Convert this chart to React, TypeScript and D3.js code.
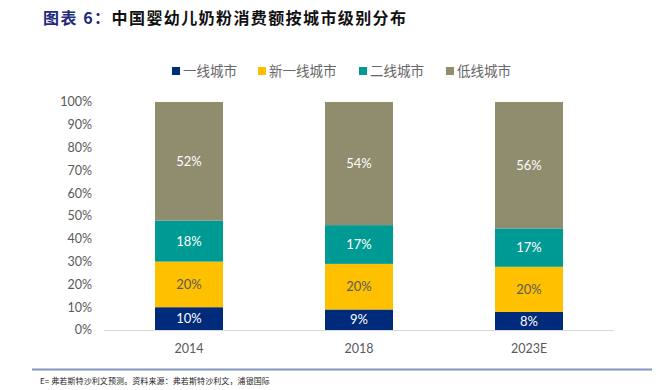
import { useMemo } from "react";
import { scaleBand, scaleLinear, stack, stackOffsetExpand } from "d3";

const WIDTH = 671;
const HEIGHT = 390;
const PLOT = { left: 104, right: 614, top: 102, bottom: 330 };

const years = ["2014", "2018", "2023E"];
const seriesNames = ["一线城市", "新一线城市", "二线城市", "低线城市"];
const tier1 = [10, 9, 8];
const newTier1 = [20, 20, 20];
const tier2 = [18, 17, 17];
const lowTier = [52, 54, 56];
const yTicks = [0, 0.1, 0.2, 0.3, 0.4, 0.5, 0.6, 0.7, 0.8, 0.9, 1];

const COLORS = ["#002B7A", "#FFC000", "#009A95", "#8F8D6E"];
const LABEL_COLORS = ["#ffffff", "#595959", "#ffffff", "#ffffff"];
const LEGEND_X = [172, 258, 359, 446];

const NUM_FONT = "Lato, 'Open Sans', sans-serif";
const CJK_FONT = "'Noto Sans CJK SC', sans-serif";

export default function App() {
  const rows = useMemo(
    () =>
      years.map((year, i) => ({
        year,
        [seriesNames[0]]: tier1[i],
        [seriesNames[1]]: newTier1[i],
        [seriesNames[2]]: tier2[i],
        [seriesNames[3]]: lowTier[i],
      })),
    []
  );

  const series = useMemo(
    () =>
      stack<any>().keys(seriesNames).offset(stackOffsetExpand)(rows),
    [rows]
  );

  const x = scaleBand<string>()
    .domain(years)
    .range([PLOT.left, PLOT.right])
    .paddingInner(0.6)
    .paddingOuter(0.3);
  const y = scaleLinear().domain([0, 1]).range([PLOT.bottom, PLOT.top]);

  return (
    <svg
      width={WIDTH}
      height={HEIGHT}
      style={{ position: "absolute", left: 0, top: 0, background: "#fff" }}
    >
      {/* title */}
      <text x={43} y={24} fontFamily={CJK_FONT} fontSize={16} fontWeight="bold">
        <tspan fill="#1F2A78" letterSpacing={1.5}>图表 6：</tspan>
        <tspan fill="#111" letterSpacing={1.4}>中国婴幼儿奶粉消费额按城市级别分布</tspan>
      </text>

      {/* legend */}
      {seriesNames.map((name, i) => (
        <g key={name}>
          <rect x={LEGEND_X[i]} y={67} width={8} height={8} fill={COLORS[i]} />
          <text
            x={LEGEND_X[i] + 11}
            y={76}
            fontFamily={CJK_FONT}
            fontSize={13.5}
            fill="#666"
          >
            {name}
          </text>
        </g>
      ))}

      {/* y axis labels */}
      {yTicks.map((t) => (
        <text
          key={t}
          x={92}
          y={y(t)}
          dy="0.35em"
          textAnchor="end"
          fontFamily={NUM_FONT}
          fontSize={12.5}
          fill="#595959"
        >
          {Math.round(t * 100)}%
        </text>
      ))}

      {/* bars */}
      {series.map((s, si) => (
        <g key={s.key}>
          {s.map((d, i) => {
            const bx = x(years[i]) ?? 0;
            const y0 = y(d[0]);
            const y1 = y(d[1]);
            const raw = (d.data as any)[s.key] as number;
            return (
              <g key={years[i]}>
                <rect
                  x={bx}
                  y={y1}
                  width={x.bandwidth()}
                  height={y0 - y1}
                  fill={COLORS[si]}
                />
                <text
                  x={bx + x.bandwidth() / 2}
                  y={(y0 + y1) / 2}
                  dy="0.36em"
                  textAnchor="middle"
                  fontFamily={NUM_FONT}
                  fontSize={13}
                  fill={LABEL_COLORS[si]}
                >
                  {raw}%
                </text>
              </g>
            );
          })}
        </g>
      ))}

      {/* x axis */}
      <line
        x1={PLOT.left}
        x2={PLOT.right}
        y1={PLOT.bottom + 0.5}
        y2={PLOT.bottom + 0.5}
        stroke="#D9D9D9"
      />
      {years.map((yr) => (
        <text
          key={yr}
          x={(x(yr) ?? 0) + x.bandwidth() / 2}
          y={353}
          textAnchor="middle"
          fontFamily={NUM_FONT}
          fontSize={12.5}
          fill="#595959"
        >
          {yr}
        </text>
      ))}

      {/* source */}
      <line x1={32} x2={652} y1={369.5} y2={369.5} stroke="#8397BF" strokeWidth={2} />
      <text x={40} y={384} fontFamily={CJK_FONT} fontSize={8} fill="#222" letterSpacing={0.1}>
        E= 弗若斯特沙利文预测。资料来源：弗若斯特沙利文，浦银国际
      </text>
    </svg>
  );
}
